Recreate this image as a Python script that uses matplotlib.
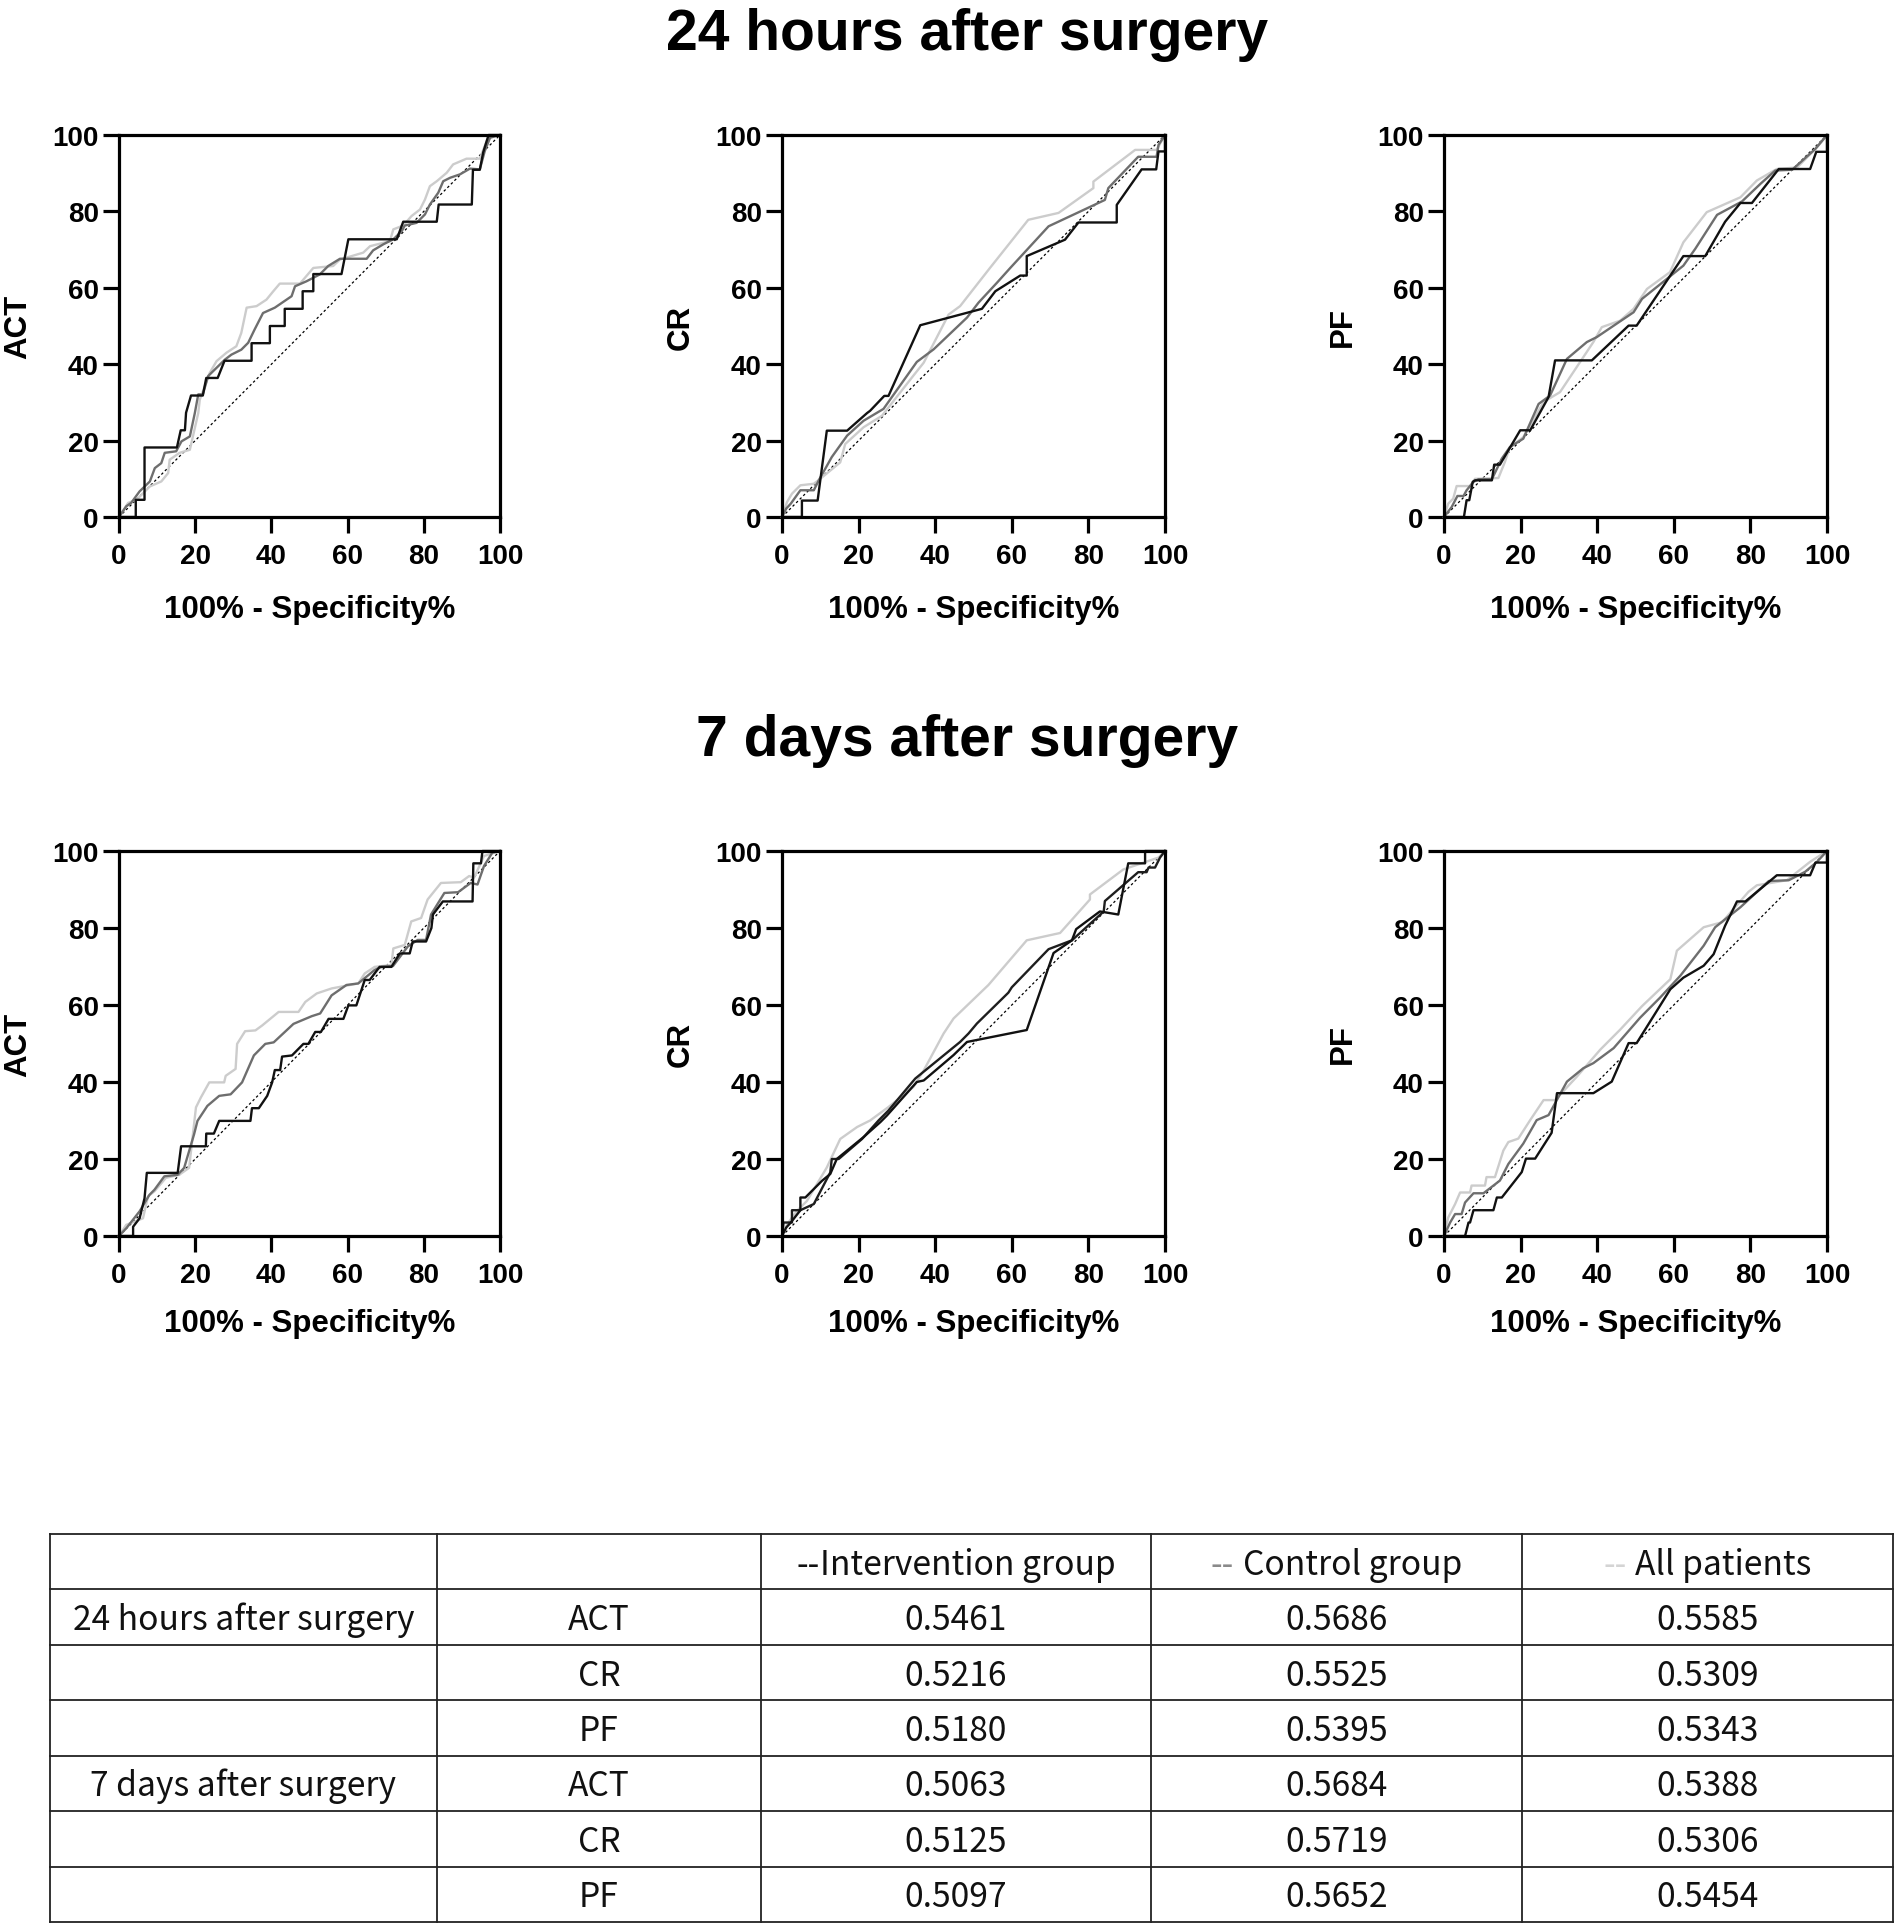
import numpy as np
import matplotlib
matplotlib.use("Agg")
import matplotlib.pyplot as plt

plt.rcParams['font.family'] = ['Liberation Sans', 'DejaVu Sans']
plt.rcParams['font.weight'] = 'bold'

# ---------------- data ----------------
section_titles = ["24 hours after surgery", "7 days after surgery"]
outcomes = ["ACT", "CR", "PF"]
x_label = "100% - Specificity%"
tick_values = [0, 20, 40, 60, 80, 100]
group_names = ["Intervention group", "Control group", "All patients"]

# 24 hours, ACT
act24_int = [(0,0),(4.4,0),(4.4,4.5),(6.7,4.5),(6.7,18.2),(15.2,18.2),(16.2,22.7),(17.3,22.7),(17.6,27.3),(18.9,31.8),
             (22.0,31.8),(22.9,36.4),(25.9,36.4),(27.7,40.9),(34.8,40.9),(34.8,45.5),(39.6,45.5),(39.6,50.0),(43.5,50.0),
             (43.5,54.5),(48.2,54.5),(48.2,59.1),(51.0,59.1),(51.0,63.6),(58.4,63.6),(60.2,72.7),(72.9,72.7),(74.6,77.3),
             (83.4,77.3),(83.9,81.8),(92.6,81.8),(92.9,90.9),(94.7,90.9),(95.6,95.5),(97.0,100),(100,100)]
act24_ctl = [(0,0),(1.9,2.8),(3.2,3.7),(5.4,6.7),(8.1,9.3),(9.4,12.8),(11.1,14.1),(12,16.8),(15,17.2),(16.4,19.8),
             (18.6,21.1),(19.9,27.2),(20.8,32.1),(22,32.1),(23.4,36.9),(27.8,41.2),(29.5,42.5),(32.1,43.8),(33.9,45.6),
             (35.6,49.1),(37.8,53.4),(40.9,54.8),(45.3,57.8),(46.2,60.4),(49.2,61.7),(52.7,63.5),(54.9,65.7),(58,67.6),
             (65,67.6),(66.7,69.8),(69.4,71.4),(72,72.7),(74.2,74.8),(75,76.3),(78.1,77),(80.3,79.2),(81.6,81.8),
             (83.8,84.9),(85.1,87.9),(86.9,88.8),(89.5,89.7),(92.1,91.2),(94.7,91),(96,95.8),(97.4,99.3),(100,100)]
act24_all = [(0,0),(2.4,3.7),(4.6,4.5),(8.1,8),(11.1,9.3),(12.9,11.5),(13.3,15),(15.9,16.8),(18.6,17.6),(20.8,27.2),
             (21.2,30.7),(23.8,37.7),(25.6,40.8),(28.2,43),(30.8,44.7),(32.1,48.2),(33.5,54.8),(36.1,55.2),(38.7,56.9),
             (40.5,59.1),(42.2,61.1),(47.5,61.1),(51,65.2),(56.2,65.7),(58,67.4),(64.1,69.2),(65.9,70.9),(71.1,72.2),
             (72,75.3),(74.6,76.3),(76.8,78.8),(79,80.5),(80.3,83.1),(81.6,86.6),(83.4,87.9),(86,90.1),(87.7,92.3),
             (91.2,93.8),(94.7,93.8),(96.5,98.4),(97.8,99.7),(100,100)]

# 24 hours, CR
cr24_int = [(0,0),(5.2,0),(5.2,4.3),(9.3,4.3),(11.7,22.6),(17,22.6),(22.2,27.2),(23,27.8),(26.7,31.7),(27.8,31.7),
            (36.1,50.2),(52.2,54.5),(55.7,59.1),(62.2,63.2),(63.9,63.2),(63.9,68.3),(73.9,72.6),(77.4,77.1),(87.4,77.1),
            (87.4,81.7),(93.9,91),(97.7,91),(98.3,95.7),(100,95.7),(100,100)]
cr24_ctl = [(0,0),(1.1,2.2),(2.3,3.5),(4.8,7),(8.3,7),(9.6,9.6),(13,15.7),(17,21.3),(21.3,25.2),(26.5,28.3),
            (35.2,40.6),(39.6,43.9),(48.3,52.2),(51.3,56.1),(56.1,61.3),(59.6,65.2),(69.6,76.1),(84.3,83),(85.2,86.1),
            (93,94.3),(97.8,94.3),(98.3,97.4),(100,100)]
cr24_all = [(0,0),(1.3,3.9),(2.6,6.1),(4.8,8.3),(8.3,8.7),(10,10),(15.2,14.3),(16.5,19.1),(21.3,23.5),(26.1,26.5),
            (34.3,37),(37,40.4),(43.5,53),(46.5,55.2),(54.3,65.2),(64.3,77.8),(72.2,79.6),(81.3,86.1),(81.3,87.8),
            (92.2,96.1),(97.8,96.1),(100,100)]

# 24 hours, PF
pf24_int = [(0,0),(5.2,0),(5.9,4.4),(6.6,4.4),(7.5,9.2),(8.1,9.6),(12.5,9.6),(13.1,13.7),(14.6,13.7),(19.9,22.7),
            (22.5,22.7),(27.3,31.4),(29,41),(38.6,41),(48.2,50.1),(50.3,50.1),(62.5,68.3),(68.2,68.3),(73.4,77.3),
            (77.4,82.2),(80.4,82.2),(87.4,91.1),(95.6,91.1),(97.2,95.6),(100,95.6),(100,100)]
pf24_ctl = [(0,0),(2,2.6),(3.5,5.5),(5.1,5.5),(5.9,7),(7.7,9.2),(9,9.9),(12.5,9.9),(15.1,15.3),(17.2,18.3),
            (20.7,20.5),(24.7,29.6),(27.7,31.8),(32.1,41.4),(37.3,45.8),(39.9,47.1),(49.5,53.6),(51.7,57.1),(62.5,65.8),
            (65.6,70.2),(71.3,79.1),(77.8,82.6),(82.6,87.2),(86.5,90.7),(90.9,90.9),(96.9,96.3),(100,100)]
pf24_all = [(0,0),(1.1,3.5),(2.4,4.8),(3.3,8.1),(6.8,8.1),(8.1,10),(14.2,10.2),(15.9,14.4),(17.2,18.3),(20.7,20.9),
            (26,30.1),(30.3,32.7),(39,45.8),(41.2,49.7),(46,51.4),(49.5,54.5),(53,59.7),(59,64.1),(62.5,71.9),
            (68.6,79.8),(77.4,83.7),(81.7,88.1),(86.9,91.1),(92.2,91.5),(97.4,96.8),(100,100)]

# 7 days, ACT
act7_int = [(0,0),(3.7,0),(3.7,2.4),(5.4,4.6),(6.7,9.8),(7.3,16.4),(15.4,16.4),(16.3,23.3),(22.8,23.3),(22.9,26.6),
            (24.9,26.6),(26.3,29.9),(34.5,29.9),(34.9,33.2),(36.7,33.2),(38.9,36.4),(40.2,39.9),(40.9,43.1),(42.3,43.1),
            (42.8,46.6),(45.4,46.9),(48.4,49.9),(49.7,49.9),(51.5,53),(53,53),(55,56.4),(58.9,56.4),(60.2,59.9),
            (62.3,59.9),(64.5,66.5),(65.8,66.5),(68.4,69.9),(71.5,69.9),(73.7,73.4),(76.3,73.4),(77.1,76.5),(80.6,76.5),
            (82,80),(82.4,83.5),(85,86.9),(92.8,86.9),(93,96.8),(95,96.8),(95.4,100),(100,100)]
act7_ctl = [(0,0),(1.9,2),(5.4,6.4),(8,10.7),(9.3,12),(11.9,15.5),(15.4,15.9),(17.1,17.7),(19.7,26.4),(20.6,29.9),
            (23.2,33.8),(26.3,36.4),(29.3,36.8),(32.3,39.9),(35.4,46.9),(38.4,49.9),(40.6,50.3),(45.8,55.1),(50.6,57.1),
            (52.8,57.8),(55.8,62.5),(59.7,65.2),(62.8,65.6),(67.1,69.1),(68.9,69.9),(71.9,70.1),(75.8,75.2),(78.4,76.9),
            (80.6,76.9),(81.9,83.5),(85.4,89.1),(89,89.3),(92.3,91.7),(94.1,91.3),(95.8,96.1),(98,99.6),(100,100)]
act7_all = [(0,0),(1.9,2.9),(6.3,4.6),(7.6,10.3),(9.3,11.6),(12.3,15.1),(15.8,15.9),(18.4,17.7),(20.2,33.4),(21.5,36),
            (23.7,39.9),(27.6,39.9),(28,41.6),(30.6,43.4),(31,49.9),(33.1,53.2),(35.8,53.4),(37.6,54.7),(41.9,58.2),
            (47.1,58.2),(48.9,60.8),(51.9,63),(55.8,64.3),(62.8,65.6),(64.5,68.2),(67.1,69.9),(71.5,70.4),(72,74.7),
            (75,75.6),(76.7,81.7),(79.3,82.6),(81,87.4),(84.5,91.7),(89.7,91.9),(91.9,93.5),(93.2,93.1),(95.8,98.7),
            (100,100)]

# 7 days, CR
cr7_int = [(0,0),(1.1,2.2),(2.3,3.5),(4.8,6.7),(4.8,10),(6.1,10),(10.4,14.3),(12.6,16.1),(14.3,20),(17,22.2),
           (21.3,25.7),(25.7,29.6),(27.4,31.3),(35.2,40),(37,40.4),(44.8,47),(48.3,50.4),(63.9,53.5),(70.9,73.5),
           (75.7,76.8),(76.8,79.7),(83,84.3),(87.8,83.5),(90.4,96.8),(94.8,96.8),(94.8,100),(100,100)]
cr7_ctl = [(0,0),(0.4,3.5),(2.6,3.5),(2.6,6.7),(4.8,6.7),(8.3,8.3),(12.6,16.5),(13,20),(14.8,20),(20.9,25.2),
           (25.2,30),(27.8,32.6),(34.8,40.9),(46.5,50.4),(48.7,52.6),(50.9,55.2),(59.1,63.2),(60,64.6),(69.6,74.5),
           (75.7,76.8),(84,84.3),(84.3,87),(93,94.5),(95.2,94.5),(95.7,95.7),(97.4,95.7),(98.7,98.3),(100,100)]
cr7_all = [(0,0),(1.3,3),(3.9,6.5),(6.5,9.1),(11.7,17.8),(15.2,25.2),(19.6,28.3),(23,30),(27.8,33.5),(34.3,38.7),
           (37,43),(42.2,52.6),(44.8,56.5),(53.9,65.2),(63.9,76.8),(72.6,78.7),(80.4,87.4),(80.4,88.7),(89.1,95.2),
           (98.3,98.3),(100,100)]

# 7 days, PF
pf7_int = [(0,0),(5.5,0),(6.4,3.5),(6.8,3.5),(7.7,6.7),(12.9,6.7),(13.8,10),(15.1,10),(20.3,16.6),(21.4,20.1),
           (23.8,20.1),(28.1,26.8),(28.6,30.5),(29.5,37.1),(39,37.1),(43.8,40.1),(48.2,50.1),(50.3,50.1),(59.1,64.1),
           (62.5,67.1),(67.8,70.2),(70.4,73.2),(73.4,80.6),(76.5,86.9),(78.7,86.9),(86.9,93.7),(95.6,93.7),(97,97),
           (100,97),(100,100)]
pf7_ctl = [(0,0),(1.6,3.5),(2.9,5.7),(4.6,5.7),(5.5,8.7),(7.7,11.1),(10.3,11.1),(14.6,14.4),(16.8,18.7),(20.7,24),
           (24.2,30.1),(27.3,31.4),(32.1,40.1),(36.4,43.6),(39,44.9),(44.3,48.8),(51.2,56.7),(56.4,61.9),(61.7,67.6),
           (67.8,75.4),(70.8,80.2),(77.4,85.4),(84.8,92.2),(90,92.4),(94.3,94.6),(97.4,97.2),(100,100)]
pf7_all = [(0,0),(1.1,4.8),(2.9,8.3),(4.2,11.3),(6.8,11.3),(7.2,13.1),(10.7,13.1),(11.1,15.3),(13.3,15.3),(15.5,22.2),
           (16.8,24.4),(19.4,25.3),(22.5,30.1),(26,35.3),(29,35.3),(34.7,41.4),(40.8,48.4),(46,53.6),(51.7,59.7),
           (59.1,66.7),(60.8,74.1),(67.8,80.2),(72.6,81.5),(79.5,89.4),(81.7,91.1),(89.5,92.4),(95.6,97.2),(100,100)]

# AUC table
table_times = ["24 hours after surgery", "7 days after surgery"]
auc_intervention = [0.5461, 0.5216, 0.5180, 0.5063, 0.5125, 0.5097]
auc_control = [0.5686, 0.5525, 0.5395, 0.5684, 0.5719, 0.5652]
auc_all = [0.5585, 0.5309, 0.5343, 0.5388, 0.5306, 0.5454]

# ---------------- figure ----------------
W, H = 1902, 1931
fig = plt.figure(figsize=(W / 100, H / 100), dpi=100)

c_int, c_ctl, c_all = '#111111', '#6e6e6e', '#cccccc'

panels = [[(act24_all, act24_ctl, act24_int), (cr24_all, cr24_ctl, cr24_int), (pf24_all, pf24_ctl, pf24_int)],
          [(act7_all, act7_ctl, act7_int), (cr7_all, cr7_ctl, cr7_int), (pf7_all, pf7_ctl, pf7_int)]]

col_left = [119, 782, 1444]
col_w = [381, 383, 383]
row_top = [136, 852]
row_h = [382, 385]
title_base = [50, 756]
xlabel_y = [-0.262, -0.247]

for r in range(2):
    fig.text(967 / W, 1 - title_base[r] / H, section_titles[r], ha='center', va='baseline',
             fontsize=41, fontweight='bold')
    for c in range(3):
        rect = [col_left[c] / W, 1 - (row_top[r] + row_h[r]) / H, col_w[c] / W, row_h[r] / H]
        ax = fig.add_axes(rect)
        ax.plot([0, 100], [0, 100], color='black', lw=0.9, ls=(0, (2, 2)), zorder=1)
        all_pts, ctl_pts, int_pts = panels[r][c]
        ctl_color = '#1e1e1e' if (r == 1 and c == 1) else c_ctl
        for pts, colr in ((all_pts, c_all), (ctl_pts, ctl_color), (int_pts, c_int)):
            a = np.array(pts, dtype=float)
            ax.plot(a[:, 0], a[:, 1], color=colr, lw=1.7, clip_on=False, zorder=2)
        ax.set_xlim(0, 100)
        ax.set_ylim(0, 100)
        ax.set_xticks(tick_values)
        ax.set_yticks(tick_values)
        ax.tick_params(direction='out', length=11.5, width=2.3, labelsize=20, color='black')
        ax.tick_params(axis='x', pad=7.5)
        ax.tick_params(axis='y', pad=3.0)
        for sp in ax.spines.values():
            sp.set_linewidth(2.3)
            sp.set_capstyle('projecting')
        ax.set_xlabel(x_label, fontsize=22.5, fontweight='bold', va='baseline')
        ax.xaxis.set_label_coords(0.5, xlabel_y[r])
        ax.set_ylabel(outcomes[c], fontsize=22.5, fontweight='bold', va='center')
        ax.yaxis.set_label_coords(-0.265, 0.5)

# ---------------- table ----------------
tax = fig.add_axes([0, 0, 1, 1])
tax.set_xlim(0, W)
tax.set_ylim(H, 0)
tax.axis('off')

col_x = [50, 437, 761, 1151, 1522, 1893]
t_top, t_bot = 1535, 1923
n_rows = 7
rh = (t_bot - t_top) / n_rows
for i in range(n_rows + 1):
    yy = t_top + i * rh
    tax.plot([col_x[0], col_x[-1]], [yy, yy], color='#222222', lw=1.3, solid_capstyle='projecting')
for xx in col_x:
    tax.plot([xx, xx], [t_top, t_bot], color='#222222', lw=1.3, solid_capstyle='projecting')

tfont = dict(family=['Noto Sans CJK SC', 'DejaVu Sans'], fontweight='normal', fontsize=24.2,
             ha='left', va='baseline', color='#111111')
cap_off = 12
centers = [(col_x[i] + col_x[i + 1]) / 2 for i in range(5)]

renderer = fig.canvas.get_renderer()

def centered_parts(xc, y, parts, gap):
    texts = [tax.text(0, y, s, **{**tfont, 'color': col}) for s, col in parts]
    widths = [t.get_window_extent(renderer).width for t in texts]
    total = sum(widths) + gap * (len(parts) - 1)
    x = xc - total / 2
    for t, w in zip(texts, widths):
        t.set_x(x)
        x += w + gap

hy = t_top + 0.5 * rh + cap_off
centered_parts(centers[2], hy, [('--', '#111111'), (group_names[0], '#111111')], 1)
centered_parts(centers[3], hy, [('--', '#8a8a8a'), (group_names[1], '#111111')], 9)
centered_parts(centers[4], hy, [('--', '#d4d4d4'), (group_names[2], '#111111')], 9)

cfont = {**tfont, 'ha': 'center'}
for k in range(6):
    y = t_top + (k + 1.5) * rh + cap_off
    if k % 3 == 0:
        tax.text(centers[0], y, table_times[k // 3], **cfont)
    tax.text(centers[1], y, outcomes[k % 3], **cfont)
    tax.text(centers[2], y, f"{auc_intervention[k]:.4f}", **cfont)
    tax.text(centers[3], y, f"{auc_control[k]:.4f}", **cfont)
    tax.text(centers[4], y, f"{auc_all[k]:.4f}", **cfont)

fig.savefig('out.png', dpi=100)
